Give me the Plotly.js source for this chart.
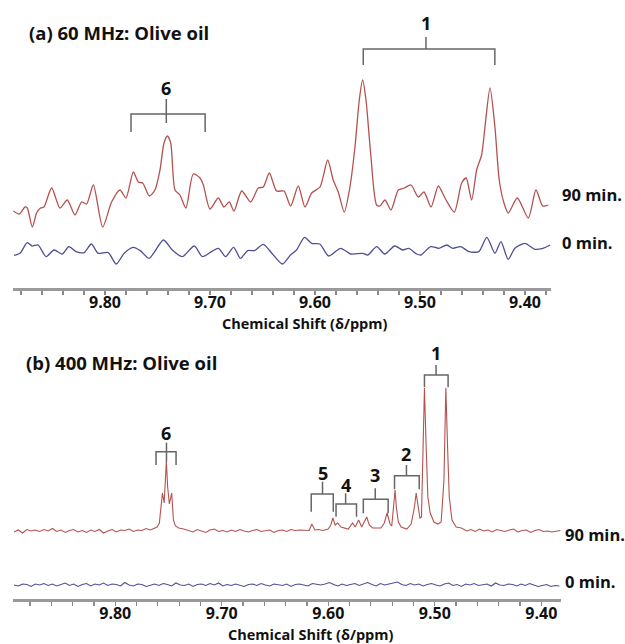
<!DOCTYPE html>
<html>
<head>
<meta charset="utf-8">
<script src="https://cdn.plot.ly/plotly-3.0.1.min.js"></script>
<style>html,body{margin:0;padding:0;background:#fff}#chart{width:625px;height:644px}</style>
</head>
<body>
<div id="chart"></div>
<script>
// ---------- DATA ----------
// Panel (a) 60 MHz, 90 min. spectrum: chemical shift (ppm) and intensity (a.u.)
const a90_ppm = [9.8873,9.8816,9.8762,9.8740,9.8692,9.8651,9.8613,9.8581,9.8508,9.8429,9.8359,9.8286,9.8222,9.8175,9.8111,9.8022,9.7937,9.7857,9.7800,9.7730,9.7683,9.7641,9.7578,9.7524,9.7476,9.7438,9.7406,9.7374,9.7333,9.7286,9.7229,9.7159,9.7095,9.7063,9.7000,9.6921,9.6867,9.6816,9.6771,9.6698,9.6612,9.6540,9.6492,9.6435,9.6365,9.6295,9.6232,9.6159,9.6095,9.6031,9.5952,9.5879,9.5826,9.5778,9.5721,9.5667,9.5619,9.5578,9.5546,9.5514,9.5470,9.5413,9.5381,9.5333,9.5276,9.5206,9.5149,9.5086,9.5016,9.4962,9.4895,9.4825,9.4762,9.4673,9.4603,9.4560,9.4508,9.4460,9.4413,9.4381,9.4333,9.4286,9.4245,9.4200,9.4159,9.4073,9.3968,9.3895,9.3831,9.3778];
const a90_int = [-1,-4,3,2,-17,-3,2,3,22,2,10,-5,8,6,25,-17,8,20,12,38,28,27,14,20,40,67,74,67,20,15,2,36,32,25,1,12,3,8,-1,19,8,22,23,37,19,19,4,24,3,17,23,50,30,18,-2,23,63,110,130,110,57,5,4,10,0,20,22,25,13,18,3,24,12,-2,27,32,10,40,55,83,122,83,30,7,-3,12,-8,20,4,5];
// Panel (a) 60 MHz, 0 min. spectrum
const a0_ppm = [9.8866,9.8809,9.8740,9.8695,9.8637,9.8561,9.8485,9.8408,9.8344,9.8275,9.8198,9.8130,9.8065,9.7969,9.7893,9.7817,9.7733,9.7664,9.7580,9.7443,9.7359,9.7263,9.7149,9.7073,9.6985,9.6920,9.6851,9.6775,9.6710,9.6641,9.6576,9.6492,9.6405,9.6309,9.6233,9.6176,9.6099,9.6031,9.5954,9.5870,9.5756,9.5660,9.5546,9.5496,9.5412,9.5336,9.5241,9.5164,9.5107,9.5031,9.4992,9.4897,9.4821,9.4744,9.4687,9.4611,9.4534,9.4439,9.4363,9.4286,9.4229,9.4160,9.4096,9.4000,9.3905,9.3829,9.3760];
const a0_int = [-2,0,10.7,7.3,8.3,-3.3,3.3,-0.7,6.7,1.7,0.7,9.3,0,0.7,-10.7,0,6,2.7,-5,13.3,3.3,-3.3,7.3,-3.3,1.7,5,-3.3,6,-5,2.7,2.7,9,-0.7,-10.7,-1.7,3.3,16,10,9.3,-2.7,5,-0.7,0,-1.7,6.7,-0.7,7.3,3.3,5,-0.7,-1.7,6.7,5,8.3,5,6.7,1.7,1.7,16,0,11.7,-6,5,10,4,5,8.3];

// Panel (b) 400 MHz, 90 min. spectrum
const b90_ppm = [9.895,9.891,9.887,9.883,9.879,9.875,9.871,9.867,9.863,9.859,9.855,9.851,9.847,9.843,9.839,9.835,9.831,9.827,9.823,9.819,9.815,9.811,9.807,9.803,9.799,9.795,9.791,9.787,9.783,9.779,9.775,9.771,
  9.7670,9.7607,9.7586,9.7570,9.7557,9.7541,9.7532,9.7520,9.7508,9.7492,9.7470,9.7454,9.7435,9.7404,9.7357,
  9.731,9.727,9.723,9.719,9.715,9.711,9.707,9.703,9.699,9.695,9.691,9.687,9.683,9.679,9.675,9.671,9.667,9.663,9.659,9.655,9.651,9.647,9.643,9.639,9.635,9.631,9.627,9.623,
  9.6180,9.6154,9.6126,9.6090,9.6050,9.6001,9.5976,9.5957,9.5935,9.5912,9.5881,9.5813,9.5771,9.5747,9.5715,9.5686,9.5639,9.5615,9.5583,9.5505,9.5474,9.5448,9.5420,9.5404,9.5385,9.5373,9.5361,9.5342,9.5316,9.5263,9.5222,9.5191,9.5175,9.5159,9.5140,9.5125,9.5112,9.5097,9.5081,9.5065,9.5043,9.5008,9.4971,9.4940,9.4914,9.4896,9.4880,9.4864,9.4839,9.4799,9.4751,
  9.470,9.466,9.462,9.458,9.454,9.450,9.446,9.442,9.438,9.434,9.430,9.426,9.422,9.418,9.414,9.410,9.406,9.402,9.398,9.394,9.390,9.386,9.382];
const b90_int = [-1,1,-2,1.5,0,1,-0.5,1.5,0,2.5,-0.5,1,-1.5,0.5,1.5,-1,0.5,-1.5,1,-0.5,1.5,-2,0,1.5,-1,1,0.5,2,-0.5,1,0.5,2.5,
  1,4,8,24,38,28,44,70,44,27,38,11,5,3,2,
  0.5,-1,1.5,0,-1.5,1,2,-0.5,0.5,-1,1,-0.5,1.5,0,-1,0.5,1.5,-0.5,0,1,-1.5,0.5,1,-0.5,1.5,0.5,1,0.5,
  0.5,7,1,1.5,0.5,2,6,13,6,8,4,2,8,4,11,4,14,6,3,3,8,18,7,5,24,41,24,9,4,2,7,24,38,24,13,14,68,143,84,34,18,9,7,9,51,143,84,34,11,4,3,
  0,1.5,-0.5,2,0,1,-1,1.5,0.5,-0.5,1,2,-1,0.5,1,-1.5,0.5,1.5,-0.5,0,-1,-0.5,0.5];
// Panel (b) 400 MHz, 0 min. spectrum
const b0_ppm = [9.895,9.891,9.887,9.883,9.879,9.875,9.871,9.867,9.863,9.859,9.855,9.851,9.847,9.843,9.839,9.835,9.831,9.827,9.823,9.819,9.815,9.811,9.807,9.803,9.799,9.795,9.791,9.787,9.783,9.779,9.775,9.771,9.767,9.763,9.759,9.755,9.751,9.747,9.743,9.739,9.735,9.731,9.727,9.723,9.719,9.715,9.711,9.707,9.703,9.699,9.695,9.691,9.687,9.683,9.679,9.675,9.671,9.667,9.663,9.659,9.655,9.651,9.647,9.643,9.639,9.635,9.631,9.627,9.623,9.619,9.615,9.611,9.607,9.603,9.599,9.595,9.591,9.587,9.583,9.579,9.575,9.571,9.567,9.563,9.559,9.555,9.551,9.547,9.543,9.539,9.535,9.531,9.527,9.523,9.519,9.515,9.511,9.507,9.503,9.499,9.495,9.491,9.487,9.483,9.479,9.475,9.471,9.467,9.463,9.459,9.455,9.451,9.447,9.443,9.439,9.435,9.431,9.427,9.423,9.419,9.415,9.411,9.407,9.403,9.399,9.395,9.391,9.387,9.383];
const b0_int = [0,-1,1,0.5,-1.5,1,0,1.5,-0.5, 1,-1,0.5,2,-0.5,1,-1.5,0.5,1.5, -1,1,0,2,-0.5,1,0.5,-1,2.5, 0,-1,1,0.5,-1.5,0,1,-0.5,1.5, 0.5,-1,2,0,-0.5,1,-1.5,0.5,1, -0.5,1.5,0,2,-1,0.5,-0.5,1,0, -1.5,0.5,1,-0.5,1.5,0,-1,1,0.5, -0.5,1,-1.5,0.5,1,0,-1,1.5,0.5, 0,1,2.5,0.5,-1,1,-0.5,0.5,1.5, -0.5,1,2.5,0.5,-1,1.5,0,1,2, 3,0.5,-0.5,1.5,0,1,-1,0.5,1.5, 0,-1,1,2,-0.5,0.5,-1.5,1,0, 1.5,-0.5,0.5,1,-1,2,0,-0.5,1, 0.5,-1,1,-0.5,1.5,0,-1.5,-0.5,0.5, -1.5,-0.5,-1];

// Tick labels
const tickVals = [9.80, 9.70, 9.60, 9.50, 9.40];
const tickText = ['9.80', '9.70', '9.60', '9.50', '9.40'];

// Peak-group brackets (label and the shifts they span)
const aBrkLabels = ['6', '1'];
const aBrkLeft   = [9.7752, 9.5540];
const aBrkRight  = [9.7046, 9.4287];
const bBrkLabels = ['6', '5', '4', '3', '2', '1'];
const bBrkLeft   = [9.7617, 9.6160, 9.5927, 9.5671, 9.5378, 9.5097];
const bBrkRight  = [9.7429, 9.5953, 9.5735, 9.5438, 9.5146, 9.4875];

// ---------- STYLE / LAYOUT ----------
const W = 625, H = 644, ML = 13, MR = 64;
const PW = W - ML - MR;
const FONT = 'Open Sans, Lato, sans-serif';
const RED = '#B4524F', BLUE = '#4F4F94', BRK = '#666666';
const px2x = p => (p - ML) / PW;
const py2y = p => 1 - p / H;

// vertical display offsets (traces stacked)
const aOff0 = -43.3, bOff0 = -54;
// bracket geometry (display units of each panel's y axis)
const aBrkGeom = [
  {h: 96, leg: 78, st: 111, sb: 87, lab: 122, stem: 9.7416},
  {h: 161, leg: 145, st: 173, sb: 161, lab: 187, stem: 9.4943}
];
const bBrkGeom = [
  {h: 79.3, leg: 66, st: 88.3, sb: 69.3, lab: 97.7, stem: 9.7519},
  {h: 37, leg: 19.3, st: 49.3, sb: 37, lab: 58.3, stem: 9.6054},
  {h: 27, leg: 14.3, st: 37.7, sb: 27, lab: 46, stem: 9.5837},
  {h: 31.7, leg: 17.7, st: 42.7, sb: 31.7, lab: 56, stem: 9.5559},
  {h: 55.3, leg: 41.7, st: 66, sb: 55.3, lab: 76.7, stem: 9.5266},
  {h: 156, leg: 143.7, st: 166, sb: 156, lab: 177.7, stem: 9.4988}
];

const traces = [
  {x: a90_ppm, y: a90_int, xaxis: 'x', yaxis: 'y', mode: 'lines', line: {color: RED, width: 1.3, shape: 'spline', smoothing: 0.7}, name: '90 min. (60 MHz)'},
  {x: a0_ppm, y: a0_int.map(v => v + aOff0), xaxis: 'x', yaxis: 'y', mode: 'lines', line: {color: BLUE, width: 1.3, shape: 'spline', smoothing: 0.7}, name: '0 min. (60 MHz)'},
  {x: b90_ppm, y: b90_int, xaxis: 'x2', yaxis: 'y2', mode: 'lines', line: {color: RED, width: 1.1}, name: '90 min. (400 MHz)'},
  {x: b0_ppm, y: b0_int.map(v => v + bOff0), xaxis: 'x2', yaxis: 'y2', mode: 'lines', line: {color: BLUE, width: 1.1}, name: '0 min. (400 MHz)'}
];

const xBase = {
  showline: true, linecolor: '#9a9a9a', linewidth: 2.5, mirror: false,
  showgrid: false, zeroline: false,
  ticks: 'outside', ticklen: 4, tickwidth: 1.2, tickcolor: '#8a8a8a',
  ticklabelstandoff: -6,
  tickmode: 'array', tickvals: tickVals, ticktext: tickText,
  tickfont: {family: FONT, size: 16, color: '#111', weight: 'bold'},
  minor: {tickmode: 'linear', tick0: 9.40, dtick: 0.02, ticks: 'outside', ticklen: 4, tickwidth: 1.2, tickcolor: '#8a8a8a', showgrid: false}
};

const layout = {
  width: W, height: H,
  margin: {l: ML, r: MR, t: 0, b: 0},
  paper_bgcolor: '#fff', plot_bgcolor: '#fff',
  showlegend: false,
  xaxis: Object.assign({}, xBase, {domain: [0, px2x(551)], range: [9.8876, 9.3752], anchor: 'y'}),
  yaxis: {domain: [py2y(288), py2y(15)], range: [-78, 195], visible: false, fixedrange: true},
  xaxis2: Object.assign({}, xBase, {domain: [0, 1], range: [9.896, 9.3815], anchor: 'y2'}),
  yaxis2: {domain: [py2y(599), py2y(340)], range: [-68, 191], visible: false, fixedrange: true},
  shapes: [],
  annotations: []
};

function addBrackets(labels, lefts, rights, geom, xr, yr) {
  labels.forEach((lab, i) => {
    const g = geom[i], l = lefts[i], r = rights[i];
    layout.shapes.push({type: 'path', xref: xr, yref: yr,
      path: `M ${l},${g.leg} L ${l},${g.h} L ${r},${g.h} L ${r},${g.leg}`,
      line: {color: BRK, width: 1.5}});
    layout.shapes.push({type: 'line', xref: xr, yref: yr, x0: g.stem, x1: g.stem, y0: g.sb, y1: g.st,
      line: {color: BRK, width: 1.5}});
    layout.annotations.push({xref: xr, yref: yr, x: g.stem, y: g.lab, text: '<b>' + lab + '</b>',
      showarrow: false, xanchor: 'center', yanchor: 'middle',
      font: {family: FONT, size: 18, color: '#111', weight: 'bold'}});
  });
}
addBrackets(aBrkLabels, aBrkLeft, aBrkRight, aBrkGeom, 'x', 'y');
addBrackets(bBrkLabels, bBrkLeft, bBrkRight, bBrkGeom, 'x2', 'y2');

function addText(txt, px, py, size, anchor) {
  layout.annotations.push({xref: 'paper', yref: 'paper', x: px2x(px), y: py2y(py), text: '<b>' + txt + '</b>',
    showarrow: false, xanchor: anchor, yanchor: 'middle',
    font: {family: FONT, size: size, color: '#111', weight: 'bold'}});
}
addText('(a) 60 MHz: Olive oil', 27, 33, 18.5, 'left');
addText('(b) 400 MHz: Olive oil', 24, 362, 18.5, 'left');
addText('90 min.', 560, 194, 16.5, 'left');
addText('0 min.', 560, 243, 16.5, 'left');
addText('90 min.', 563, 534, 16.5, 'left');
addText('0 min.', 563, 581, 16.5, 'left');
addText('Chemical Shift (δ/ppm)', 304, 324, 14.5, 'center');
addText('Chemical Shift (δ/ppm)', 311, 634, 14.5, 'center');

Plotly.newPlot('chart', traces, layout, {staticPlot: true, displayModeBar: false});
</script>
</body>
</html>
